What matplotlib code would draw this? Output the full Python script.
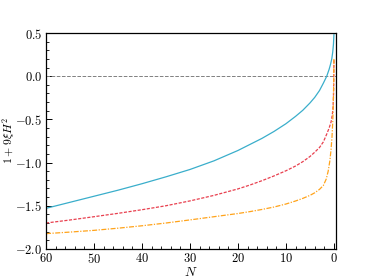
import matplotlib
matplotlib.use("Agg")
import matplotlib.pyplot as plt
from matplotlib.ticker import MultipleLocator

plt.rcParams['font.family'] = 'serif'
plt.rcParams['font.serif'] = ['cmr10']
plt.rcParams['mathtext.fontset'] = 'cm'
plt.rcParams['axes.formatter.use_mathtext'] = True

# values
n_cyan = [60, 55, 50, 45, 40, 35, 30, 25, 20, 17.5, 15, 12.5, 10, 8, 6.5, 5, 4, 3, 2.2,
          1.5, 1.0, 0.7, 0.45, 0.25, 0.1, 0]
y_cyan = [-1.53, -1.46, -1.39, -1.32, -1.245, -1.165, -1.08, -0.98, -0.86, -0.79, -0.72,
          -0.64, -0.55, -0.465, -0.395, -0.31, -0.245, -0.165, -0.08, 0.0, 0.08, 0.14,
          0.2, 0.28, 0.37, 0.48]

n_red = [60, 55, 50, 45, 40, 35, 30, 25, 20, 17.5, 15, 12.5, 10, 8, 6.5, 5, 4, 3, 2.2,
         1.5, 1.0, 0.6, 0.35, 0.2, 0.1, 0.05, 0.02, 0]
y_red = [-1.70, -1.665, -1.627, -1.588, -1.546, -1.50, -1.444, -1.38, -1.305, -1.26,
         -1.21, -1.155, -1.095, -1.04, -0.99, -0.93, -0.88, -0.825, -0.76, -0.67, -0.60,
         -0.53, -0.45, -0.37, -0.25, -0.1, 0.05, 0.2]

n_orange = [60, 55, 50, 45, 40, 35, 30, 25, 20, 17.5, 15, 12.5, 10, 8, 6.5, 5, 4, 3, 2.2,
            1.6, 1.2, 0.85, 0.6, 0.4, 0.25, 0.15, 0.08, 0.03, 0]
y_orange = [-1.823, -1.805, -1.785, -1.76, -1.732, -1.70, -1.664, -1.627, -1.59, -1.568,
            -1.543, -1.515, -1.48, -1.445, -1.415, -1.38, -1.35, -1.31, -1.265, -1.19,
            -1.10, -0.98, -0.85, -0.70, -0.53, -0.36, -0.18, 0.0, 0.2]

fig = plt.figure(figsize=(3.74, 2.8), dpi=100)
ax = fig.add_axes([0.123, 0.111, 0.775, 0.771])

ax.axhline(0, color='gray', ls='--', lw=0.7)
ax.plot(n_cyan, y_cyan, '-', color='#3aaecb', lw=0.9)
ax.plot(n_red, y_red, '--', color='#e8404f', lw=0.9, dashes=(2.5, 1.2))
ax.plot(n_orange, y_orange, '-.', color='#ffa31a', lw=0.9, dashes=(4, 1.2, 1, 1.2))

ax.set_xlim(60, -0.4)
ax.set_ylim(-2.0, 0.5)
ax.xaxis.set_major_locator(MultipleLocator(10))
ax.xaxis.set_minor_locator(MultipleLocator(2))
ax.yaxis.set_major_locator(MultipleLocator(0.5))
ax.yaxis.set_minor_locator(MultipleLocator(0.1))
ax.tick_params(which='both', direction='in', labelsize=9)
ax.tick_params(which='major', length=4, width=0.7, pad=2.5)
ax.tick_params(which='minor', length=2, width=0.6)
for s in ax.spines.values():
    s.set_linewidth(0.9)

ax.set_xlabel(r'$N$', fontsize=9.5, labelpad=0)
ax.set_ylabel(r'$1+9\xi H^2$', fontsize=8.5)
ax.yaxis.set_label_coords(-0.1, 0.5)

fig.savefig('out.png', dpi=100)
